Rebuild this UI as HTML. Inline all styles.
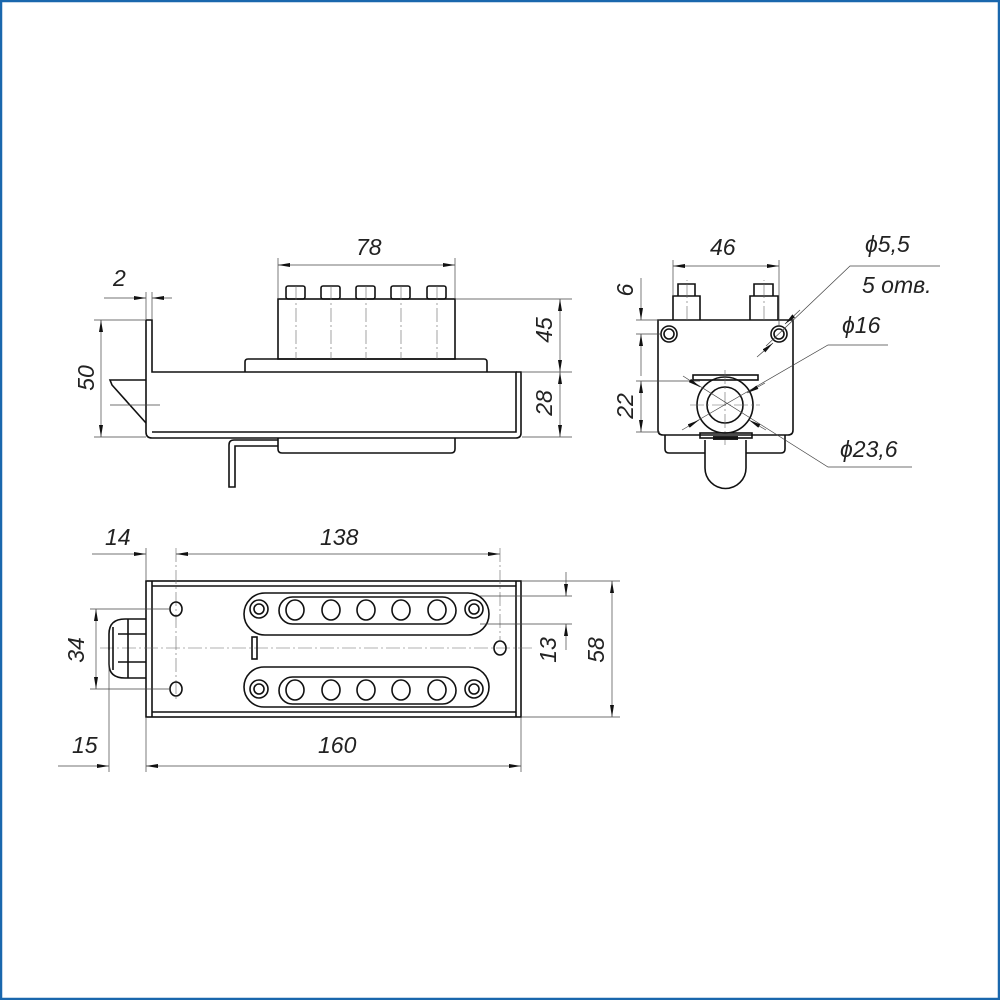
<!DOCTYPE html>
<html><head><meta charset="utf-8"><style>
html,body{margin:0;padding:0;background:#fff}
svg{display:block}
text{font-family:"Liberation Sans",sans-serif;font-style:italic;font-size:23px;fill:#222}
.o{fill:none;stroke:#111;stroke-width:1.6}
.d{fill:none;stroke:#444;stroke-width:0.7}
.c{fill:none;stroke:#666;stroke-width:0.6;stroke-dasharray:14 3 2 3}
</style></head><body>
<svg width="1000" height="1000" viewBox="0 0 1000 1000" xmlns="http://www.w3.org/2000/svg">
<defs>
<marker id="a" viewBox="0 0 12 4" refX="12" refY="2" markerWidth="12" markerHeight="4" orient="auto-start-reverse" markerUnits="userSpaceOnUse"><path d="M0,0 L12,2 L0,4z" fill="#111"/></marker>
</defs>
<rect x="1" y="1" width="998" height="998" fill="none" stroke="#1a67ad" stroke-width="2.5"/>

<!-- SIDE VIEW -->
<path class="o" d="M146,320 L152,320 L152,372 L516,372 L516,432 L152,432"/>
<path class="o" d="M146,320 L146,432 Q146,438 152,438 L516,438 Q521,438 521,433 L521,372 L516,372"/>
<path class="o" d="M245,372 L245,362 Q245,359 248,359 L484,359 Q487,359 487,362 L487,372"/>
<rect class="o" x="278" y="299" width="177" height="60"/>
<g class="o">
<rect x="286" y="286" width="19" height="13" rx="2"/>
<rect x="321" y="286" width="19" height="13" rx="2"/>
<rect x="356" y="286" width="19" height="13" rx="2"/>
<rect x="391" y="286" width="19" height="13" rx="2"/>
<rect x="427" y="286" width="19" height="13" rx="2"/>
</g>
<g class="c"><path d="M296,286V359M331,286V359M366,286V359M401,286V359M437,286V359"/></g>
<path class="o" d="M146,380 L110,380 L112,385 L146,423"/>
<path class="o" d="M278,438 L278,449 Q278,453 282,453 L451,453 Q455,453 455,449 L455,438"/>
<path class="o" d="M278,440 L234,440 Q229,440 229,445 L229,487 L235,487 L235,446 L278,446"/>
<!-- side dims -->
<path class="d" d="M278,299V258M455,299V258"/>
<line class="d" x1="278" y1="265" x2="455" y2="265" marker-start="url(#a)" marker-end="url(#a)"/>
<text x="356" y="255">78</text>
<path class="d" d="M146,320V292M152,320V292"/>
<line class="d" x1="104" y1="298" x2="146" y2="298" marker-end="url(#a)"/>
<line class="d" x1="172" y1="298" x2="152" y2="298" marker-end="url(#a)"/>
<text x="113" y="286">2</text>
<path class="d" d="M94,320H146M94,437H146M110,405H160"/>
<line class="d" x1="101" y1="320" x2="101" y2="437" marker-start="url(#a)" marker-end="url(#a)"/>
<text transform="translate(94,378) rotate(-90)" text-anchor="middle">50</text>
<path class="d" d="M455,299H572M522,372H572M522,437H572"/>
<line class="d" x1="560" y1="299" x2="560" y2="372" marker-start="url(#a)" marker-end="url(#a)"/>
<line class="d" x1="560" y1="372" x2="560" y2="437" marker-start="url(#a)" marker-end="url(#a)"/>
<text transform="translate(552,330) rotate(-90)" text-anchor="middle">45</text>
<text transform="translate(552,403) rotate(-90)" text-anchor="middle">28</text>

<!-- FRONT VIEW -->
<path class="o" d="M658,320 L793,320 L793,430 Q793,435 788,435 L663,435 Q658,435 658,430Z"/>
<path class="o" d="M673,320V296H700V320M678,296V284H695V296M750,320V296H778V320M754,296V284H773V296"/>
<circle class="o" cx="669" cy="334" r="8"/><circle class="o" cx="669" cy="334" r="5"/>
<circle class="o" cx="779" cy="334" r="8"/><circle class="o" cx="779" cy="334" r="5"/>
<rect class="o" x="693" y="375" width="65" height="5"/>
<circle class="o" cx="725" cy="405" r="28"/><circle class="o" cx="725" cy="405" r="18"/>
<path class="c" d="M725,370V445M690,405H760M687,320V280M764,320V280"/>
<path class="o" d="M665,435 L665,449 Q665,453 669,453 L705,453 M746,453 L781,453 Q785,453 785,449 L785,435"/>
<rect x="713" y="436" width="25" height="4" fill="#222"/>
<rect class="o" x="700" y="433" width="52" height="5"/>
<path class="o" d="M705,440 L705,468 A20.5,20.5 0 0 0 746,468 L746,440"/>
<!-- front dims -->
<path class="d" d="M673,296V260M779,326V260"/>
<line class="d" x1="673" y1="266" x2="779" y2="266" marker-start="url(#a)" marker-end="url(#a)"/>
<text x="710" y="255">46</text>
<path class="d" d="M636,320H660M636,334H662M636,381H700M636,432H660"/>
<line class="d" x1="641" y1="278" x2="641" y2="320" marker-end="url(#a)"/>
<line class="d" x1="641" y1="376" x2="641" y2="334" marker-end="url(#a)"/>
<line class="d" x1="641" y1="381" x2="641" y2="432" marker-start="url(#a)" marker-end="url(#a)"/>
<text transform="translate(633,290) rotate(-90)" text-anchor="middle">6</text>
<text transform="translate(633,406) rotate(-90)" text-anchor="middle">22</text>
<path class="d" d="M940,266H850L766,346"/>
<line class="d" x1="800" y1="310" x2="785" y2="324" marker-end="url(#a)"/>
<line class="d" x1="757" y1="357" x2="773" y2="343" marker-end="url(#a)"/>
<text x="865" y="252">ϕ5,5</text>
<text x="862" y="293">5 отв.</text>
<path class="d" d="M888,345H828L695,422"/>
<line class="d" x1="765" y1="383" x2="747" y2="393" marker-end="url(#a)"/>
<line class="d" x1="682" y1="430" x2="699" y2="420" marker-end="url(#a)"/>
<text x="842" y="333">ϕ16</text>
<path class="d" d="M912,467H828L690,380"/>
<line class="d" x1="683" y1="376" x2="700" y2="387" marker-end="url(#a)"/>
<line class="d" x1="766" y1="430" x2="749" y2="420" marker-end="url(#a)"/>
<text x="840" y="457">ϕ23,6</text>

<!-- TOP VIEW -->
<rect class="o" x="146" y="581" width="375" height="136"/>
<path class="o" d="M152,581V717M516,581V717M152,586H516M152,712H516"/>
<path class="c" d="M100,648H532M176,548V700M500,548V640"/>
<ellipse class="o" cx="176" cy="609" rx="6" ry="7"/>
<ellipse class="o" cx="176" cy="689" rx="6" ry="7"/>
<ellipse class="o" cx="500" cy="648" rx="6" ry="7"/>
<rect class="o" x="252" y="637" width="5" height="22"/>
<path class="o" d="M146,619 L125,619 Q109,619 109,634 L109,664 Q109,678 125,678 L146,678 M113,627V670M128,619V678M118,634H146M118,662H146"/>
<g id="pl">
<rect class="o" x="244" y="593" width="245" height="42" rx="21"/>
<rect class="o" x="279" y="597" width="177" height="27" rx="13.5"/>
<circle class="o" cx="259" cy="609" r="9"/><circle class="o" cx="259" cy="609" r="5"/>
<circle class="o" cx="474" cy="609" r="9"/><circle class="o" cx="474" cy="609" r="5"/>
<ellipse class="o" cx="295" cy="610" rx="9" ry="10"/>
<ellipse class="o" cx="331" cy="610" rx="9" ry="10"/>
<ellipse class="o" cx="366" cy="610" rx="9" ry="10"/>
<ellipse class="o" cx="401" cy="610" rx="9" ry="10"/>
<ellipse class="o" cx="437" cy="610" rx="9" ry="10"/>
</g>
<g transform="translate(0,80)">
<rect class="o" x="244" y="587" width="245" height="40" rx="20"/>
<rect class="o" x="279" y="597" width="177" height="27" rx="13.5"/>
<circle class="o" cx="259" cy="609" r="9"/><circle class="o" cx="259" cy="609" r="5"/>
<circle class="o" cx="474" cy="609" r="9"/><circle class="o" cx="474" cy="609" r="5"/>
<ellipse class="o" cx="295" cy="610" rx="9" ry="10"/>
<ellipse class="o" cx="331" cy="610" rx="9" ry="10"/>
<ellipse class="o" cx="366" cy="610" rx="9" ry="10"/>
<ellipse class="o" cx="401" cy="610" rx="9" ry="10"/>
<ellipse class="o" cx="437" cy="610" rx="9" ry="10"/>
</g>
<!-- top dims -->
<path class="d" d="M146,581V548M146,717V772M521,717V772M109,650V772"/>
<line class="d" x1="92" y1="554" x2="146" y2="554" marker-end="url(#a)"/>
<line class="d" x1="176" y1="554" x2="500" y2="554" marker-start="url(#a)" marker-end="url(#a)"/>
<text x="105" y="545">14</text>
<text x="320" y="545">138</text>
<path class="d" d="M90,609H170M90,689H170"/>
<line class="d" x1="96" y1="609" x2="96" y2="689" marker-start="url(#a)" marker-end="url(#a)"/>
<text transform="translate(84,650) rotate(-90)" text-anchor="middle">34</text>
<line class="d" x1="58" y1="766" x2="109" y2="766" marker-end="url(#a)"/>
<line class="d" x1="146" y1="766" x2="521" y2="766" marker-start="url(#a)" marker-end="url(#a)"/>
<text x="72" y="753">15</text>
<text x="318" y="753">160</text>
<path class="d" d="M480,596H572M480,624H572M521,581H620M521,717H620"/>
<line class="d" x1="566" y1="572" x2="566" y2="596" marker-end="url(#a)"/>
<line class="d" x1="566" y1="650" x2="566" y2="624" marker-end="url(#a)"/>
<line class="d" x1="612" y1="581" x2="612" y2="717" marker-start="url(#a)" marker-end="url(#a)"/>
<text transform="translate(556,650) rotate(-90)" text-anchor="middle">13</text>
<text transform="translate(604,650) rotate(-90)" text-anchor="middle">58</text>
</svg>
</body></html>
